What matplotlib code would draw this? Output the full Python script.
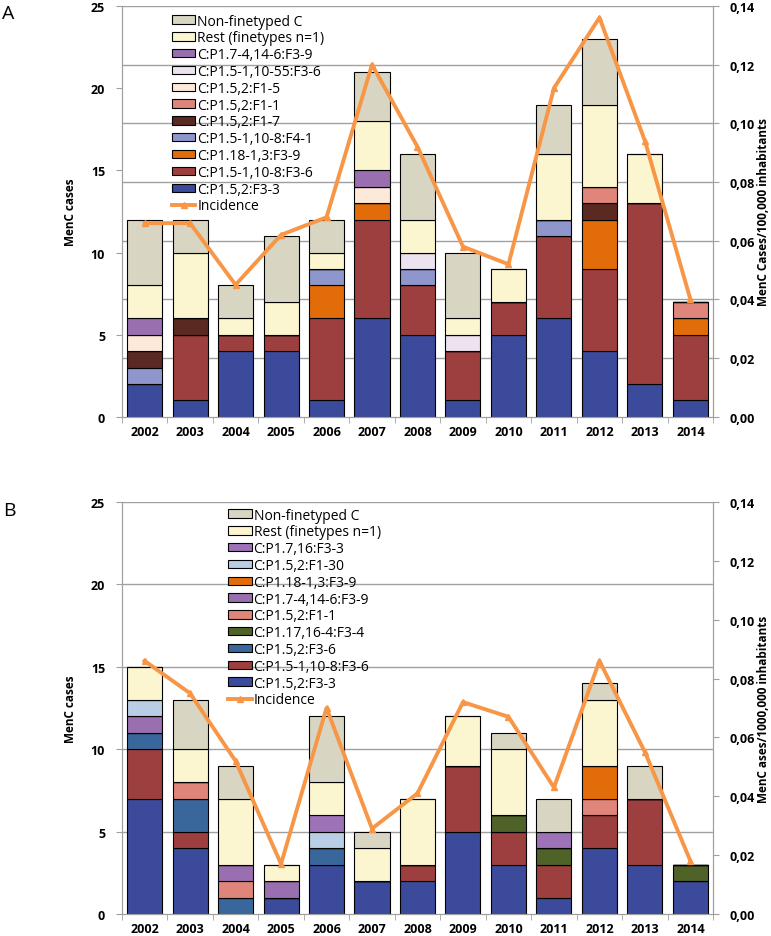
import matplotlib
matplotlib.use('Agg')
import matplotlib.pyplot as plt
from matplotlib.lines import Line2D
from matplotlib.patches import Patch
import numpy as np

plt.rcParams['font.family'] = ['Open Sans', 'DejaVu Sans']

years = ['2002', '2003', '2004', '2005', '2006', '2007', '2008',
         '2009', '2010', '2011', '2012', '2013', '2014']

# panel A, stacked bottom -> top
a_labels = ['C:P1.5,2:F3-3', 'C:P1.5-1,10-8:F3-6', 'C:P1.18-1,3:F3-9',
            'C:P1.5-1,10-8:F4-1', 'C:P1.5,2:F1-7', 'C:P1.5,2:F1-1',
            'C:P1.5,2:F1-5', 'C:P1.5-1,10-55:F3-6', 'C:P1.7-4,14-6:F3-9',
            'Rest (finetypes n=1)', 'Non-finetyped C']
a_f33 = [2, 1, 4, 4, 1, 6, 5, 1, 5, 6, 4, 2, 1]
a_f36 = [0, 4, 1, 1, 5, 6, 3, 3, 2, 5, 5, 11, 4]
a_p118 = [0, 0, 0, 0, 2, 1, 0, 0, 0, 0, 3, 0, 1]
a_f41 = [1, 0, 0, 0, 1, 0, 1, 0, 0, 1, 0, 0, 0]
a_f17 = [1, 1, 0, 0, 0, 0, 0, 0, 0, 0, 1, 0, 0]
a_f11 = [0, 0, 0, 0, 0, 0, 0, 0, 0, 0, 1, 0, 1]
a_f15 = [1, 0, 0, 0, 0, 1, 0, 0, 0, 0, 0, 0, 0]
a_1055 = [0, 0, 0, 0, 0, 0, 1, 1, 0, 0, 0, 0, 0]
a_p174 = [1, 0, 0, 0, 0, 1, 0, 0, 0, 0, 0, 0, 0]
a_rest = [2, 4, 1, 2, 1, 3, 2, 1, 2, 4, 5, 3, 0]
a_non = [4, 2, 2, 4, 2, 3, 4, 4, 0, 3, 4, 0, 0]
inc_a = [0.066, 0.066, 0.045, 0.062, 0.068, 0.120, 0.092,
         0.058, 0.052, 0.112, 0.136, 0.094, 0.040]

# panel B, stacked bottom -> top
b_labels = ['C:P1.5,2:F3-3', 'C:P1.5-1,10-8:F3-6', 'C:P1.5,2:F3-6',
            'C:P1.17,16-4:F3-4', 'C:P1.5,2:F1-1', 'C:P1.7-4,14-6:F3-9',
            'C:P1.18-1,3:F3-9', 'C:P1.5,2:F1-30', 'C:P1.7,16:F3-3',
            'Rest (finetypes n=1)', 'Non-finetyped C']
b_f33 = [7, 4, 0, 1, 3, 2, 2, 5, 3, 1, 4, 3, 2]
b_f36 = [3, 1, 0, 0, 0, 0, 1, 4, 2, 2, 2, 4, 0]
b_p152 = [1, 2, 1, 0, 1, 0, 0, 0, 0, 0, 0, 0, 0]
b_p117 = [0, 0, 0, 0, 0, 0, 0, 0, 1, 1, 0, 0, 1]
b_f11 = [0, 1, 1, 0, 0, 0, 0, 0, 0, 0, 1, 0, 0]
b_p174 = [1, 0, 1, 1, 0, 0, 0, 0, 0, 0, 0, 0, 0]
b_p118 = [0, 0, 0, 0, 0, 0, 0, 0, 0, 0, 2, 0, 0]
b_f130 = [1, 0, 0, 0, 1, 0, 0, 0, 0, 0, 0, 0, 0]
b_p1716 = [0, 0, 0, 0, 1, 0, 0, 0, 0, 1, 0, 0, 0]
b_rest = [2, 2, 4, 1, 2, 2, 4, 3, 4, 0, 4, 0, 0]
b_non = [0, 3, 2, 0, 4, 1, 0, 0, 1, 2, 1, 2, 0]
inc_b = [0.086, 0.075, 0.052, 0.017, 0.070, 0.029, 0.041,
         0.072, 0.067, 0.043, 0.086, 0.055, 0.018]

a_series = [a_f33, a_f36, a_p118, a_f41, a_f17, a_f11, a_f15,
            a_1055, a_p174, a_rest, a_non]
b_series = [b_f33, b_f36, b_p152, b_p117, b_f11, b_p174, b_p118,
            b_f130, b_p1716, b_rest, b_non]

a_colors = ['#3b4a9a', '#9e3f3f', '#e36c0a', '#8e96cc', '#5a2a22',
            '#e0857a', '#fde9d9', '#ece2f0', '#9a6fb0', '#fbf6cf', '#d8d6c2']
b_colors = ['#3b4a9a', '#9e3f3f', '#3a679b', '#4f6228', '#e0857a',
            '#9a6fb0', '#e36c0a', '#b9cde5', '#9e72b6', '#fbf6cf', '#d8d6c2']

inc_color = '#f79646'
grey = '#a0a0a0'


def draw_panel(rect, series, labels, colors, inc, right_label,
               grid_on_right, legend_xy):
    ax = fig.add_axes(rect)
    x = np.arange(len(years))
    bottom = np.zeros(len(years))
    handles = []
    for vals, lab, col in zip(series, labels, colors):
        vals = np.array(vals, dtype=float)
        ax.bar(x, vals, 0.77, bottom=bottom, color=col, edgecolor='black',
               linewidth=0.8, zorder=2)
        bottom += vals
        handles.append(Patch(facecolor=col, edgecolor='black', linewidth=0.8,
                             label=lab))

    ax.set_xlim(-0.5, len(years) - 0.5)
    ax.set_ylim(0, 25)
    ax.set_yticks([0, 5, 10, 15, 20, 25])
    ax.set_xticks(x)
    ax.set_xticklabels(years, fontweight='bold', fontsize=9)
    ax.set_xticks(np.arange(-0.5, len(years)), minor=True)
    ax.tick_params(axis='x', which='major', length=0, pad=6)
    ax.tick_params(axis='x', which='minor', length=4, color=grey)
    ax.tick_params(axis='y', length=4, color=grey, labelsize=9, pad=8)
    for t in ax.get_yticklabels():
        t.set_fontweight('bold')
    ax.set_ylabel('MenC cases', fontsize=8.5, fontweight='bold', labelpad=10)

    ax2 = ax.twinx()
    ax2.set_ylim(0, 0.14)
    rticks = np.arange(0, 0.141, 0.02)
    ax2.set_yticks(rticks)
    ax2.set_yticklabels(['{:.2f}'.format(v).replace('.', ',') for v in rticks],
                        fontweight='bold', fontsize=9)
    ax2.tick_params(axis='y', length=4, color=grey, pad=8)
    ax2.set_ylabel(right_label, fontsize=8.5, fontweight='bold', labelpad=1)
    ax2.plot(x, inc, color=inc_color, linewidth=2.8, marker='^',
             markersize=5, zorder=3)

    if grid_on_right:
        gvals = rticks[1:] / 0.14 * 25
    else:
        gvals = [5, 10, 15, 20, 25]
    for g in gvals:
        ax.axhline(g, color=grey, linewidth=1, zorder=0)

    for a in (ax, ax2):
        for s in a.spines.values():
            s.set_color(grey)
        a.spines['top'].set_visible(False)

    handles = handles[::-1]
    handles.append(Line2D([0], [0], color=inc_color, linewidth=2.8,
                          marker='^', markersize=5, label='Incidence'))
    ax2.legend(handles=handles, loc='upper left', bbox_to_anchor=legend_xy,
               frameon=False, fontsize=10, handlelength=1.7, handleheight=0.55,
               labelspacing=0.13, handletextpad=0.15, borderaxespad=0)
    return ax


fig = plt.figure(figsize=(7.71, 9.37), dpi=100)

draw_panel([0.158, 0.554, 0.767, 0.4386], a_series, a_labels, a_colors,
           inc_a, 'MenC Cases/100,000 inhabitants', True, (0.075, 0.995))
draw_panel([0.158, 0.0235, 0.767, 0.4397], b_series, b_labels, b_colors,
           inc_b, 'MenC ases/1000,000 inhabitants', False, (0.17, 1.0))

fig.text(0.002, 0.985, 'A', fontsize=14, va='center')
fig.text(0.004, 0.455, 'B', fontsize=14, va='center')

fig.savefig('out.png', dpi=100)
